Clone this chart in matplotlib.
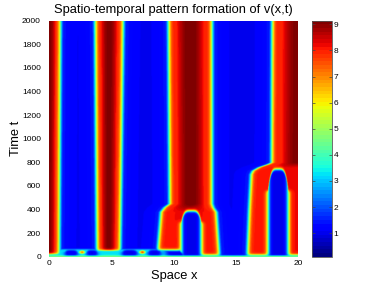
import numpy as np
import matplotlib
matplotlib.use("Agg")
import matplotlib.pyplot as plt

plt.rcParams['font.family'] = ['Liberation Sans', 'DejaVu Sans']

# stripes of high v: time knots, left / right edge, core value, centre dip
A_t, A_xl, A_xr, A_pk, A_dp = [0, 2000], [-0.9, -0.9], [0.8, 0.9], [9.1, 9.1], [3.2, 3.2]
A_bx, A_bt = [-1, 21], [22, 22]

B_t, B_xl, B_xr, B_pk, B_dp = [0, 2000], [3.85, 3.7], [5.7, 5.95], [9.1, 9.1], [3.2, 3.2]
B_bx, B_bt = [-1, 21], [52, 52]

C_t = [0, 60, 380, 420, 450, 2000]
C_xl = [8.7, 8.75, 9.0, 9.3, 9.7, 9.6]
C_xr = [13.7, 13.65, 13.45, 13.2, 13.1, 13.1]
C_pk = [8.2, 8.2, 8.2, 8.8, 9.2, 9.2]
C_dp = [0.2, 0.2, 0.2, 1.8, 3.0, 3.0]
C_bx, C_bt = [8.0, 10.5, 10.8, 14.0], [58, 58, 15, 15]
C_hole = [10.62, 12.25, 390]   # blue arch inside: left, right, top

D_t = [0, 400, 700, 730, 760, 785, 800, 2000]
D_xl = [15.95, 16.1, 16.25, 16.4, 16.9, 17.6, 17.9, 17.95]
D_xr = [22.0, 22.0, 22.0, 22.0, 22.0, 22.0, 22.05, 22.05]
D_pk = [8.2, 8.2, 8.2, 8.2, 8.3, 8.8, 9.1, 9.1]
D_dp = [0.2, 0.2, 0.2, 0.2, 0.6, 2.0, 3.0, 3.0]
D_bx, D_bt = [-1, 21], [15, 15]
D_hole = [17.6, 19.25, 745]

bands = [
    (A_t, A_xl, A_xr, A_pk, A_dp, A_bx, A_bt, None),
    (B_t, B_xl, B_xr, B_pk, B_dp, B_bx, B_bt, None),
    (C_t, C_xl, C_xr, C_pk, C_dp, C_bx, C_bt, C_hole),
    (D_t, D_xl, D_xr, D_pk, D_dp, D_bx, D_bt, D_hole),
]

# early transient near t = 0: cyan layer with blue arches and red spots (x < 9.4 only)
layer_top = 66
layer_xmax = 9.4
arch_l = [1.25, 3.0, 5.85, 7.95]
arch_r = [2.3, 3.9, 7.1, 9.0]
arch_top = [56, 56, 58, 58]
blob_x = [2.65, 7.5]
blob_t = [40, 40]
blob_v = [7.2, 7.8]

v_low = 1.0
v_init = 4.6

x = np.linspace(0, 20, 501)
t = np.linspace(0, 2000, 1001)
X, T = np.meshgrid(x, t)


def sig(z):
    return 1.0 / (1.0 + np.exp(-np.clip(z, -60, 60)))


def arch(xl, xr, top, wx=0.1, wt=5.0):
    u = np.clip((X - (xl + xr) / 2) / ((xr - xl) / 2), -1, 1)
    ttop = top - 0.25 * top * u ** 4
    return sig((X - xl) / wx) * sig((xr - X) / wx) * sig((ttop - T) / wt)


V = np.full(X.shape, v_low)
soft = np.zeros(X.shape)
for tk, xl, xr, pk, dp, bx, bt, hole in bands:
    XL = np.interp(T, tk, xl)
    XR = np.interp(T, tk, xr)
    PK = np.interp(T, tk, pk)
    DP = np.interp(T, tk, dp)
    xc = (XL + XR) / 2
    hw = (XR - XL) / 2
    core = np.maximum(PK - DP * ((X - xc) / hw) ** 2, np.minimum(PK, 8.0))
    st = sig((T - np.interp(X, bx, bt)) / 6)
    sx = sig((X - XL) / 0.1) * sig((XR - X) / 0.1)
    sxs = sig((X - XL) / 0.55) * sig((XR - X) / 0.55)
    h = 0.0
    if hole is not None:
        h = arch(hole[0], hole[1], hole[2], wt=7.0)
    s = sx * st * (1 - h)
    V = np.maximum(V, v_low + (core - v_low) * s)
    soft = np.maximum(soft, sxs * st * (1 - h))

V = np.maximum(V, v_low + 1.2 * soft)

# bottom transient layer
hole_sum = np.zeros(X.shape)
for al, ar, at in zip(arch_l, arch_r, arch_top):
    hole_sum = np.maximum(hole_sum, arch(al, ar, at, wt=4.0))
lay = sig((layer_top - T) / 4) * sig((layer_xmax - X) / 0.15) * (1 - hole_sum)
V = np.maximum(V, v_low + 2.3 * lay)
for bxx, btt, bv in zip(blob_x, blob_t, blob_v):
    V = np.maximum(V, v_low + (bv - v_low) * np.exp(-((X - bxx) / 0.3) ** 2 - ((T - btt) / 18) ** 2))

b = sig((11 - T) / 3)
V = V * (1 - b) + v_init * b

fig = plt.figure(figsize=(3.82, 2.88), dpi=100)
ax = fig.add_axes([49.3 / 382, 31.3 / 288, 249 / 382, 236 / 288])
cax = fig.add_axes([312.3 / 382, 31.3 / 288, 19.4 / 382, 236 / 288])

im = ax.imshow(V, extent=[0, 20, 0, 2000], origin='lower', aspect='auto',
               cmap=plt.get_cmap('jet', 64), vmin=0.1, vmax=9.14, interpolation='bilinear')
ax.set_xlim(0, 20)
ax.set_ylim(0, 2000)
ax.set_xticks([0, 5, 10, 15, 20])
ax.set_yticks(np.arange(0, 2001, 200))
ax.tick_params(length=0, labelsize=6)
ax.tick_params(axis='y', pad=6.0)
ax.tick_params(axis='x', pad=2.5)
for sp in ax.spines.values():
    sp.set_visible(False)
ax.set_title('Spatio-temporal pattern formation of v(x,t)', fontsize=9.3, pad=5.3)
ax.set_xlabel('Space x', fontsize=9.3, labelpad=2)
ax.set_ylabel('Time t', fontsize=9.3, labelpad=0)

cb = fig.colorbar(im, cax=cax, ticks=range(1, 10))
cb.outline.set_edgecolor('#555555')
cb.outline.set_linewidth(0.6)
cax.tick_params(direction='in', length=2, width=0.5, color='#444444', labelsize=6, pad=1.2,
                left=True, right=True)

fig.savefig('out.png', dpi=100)
